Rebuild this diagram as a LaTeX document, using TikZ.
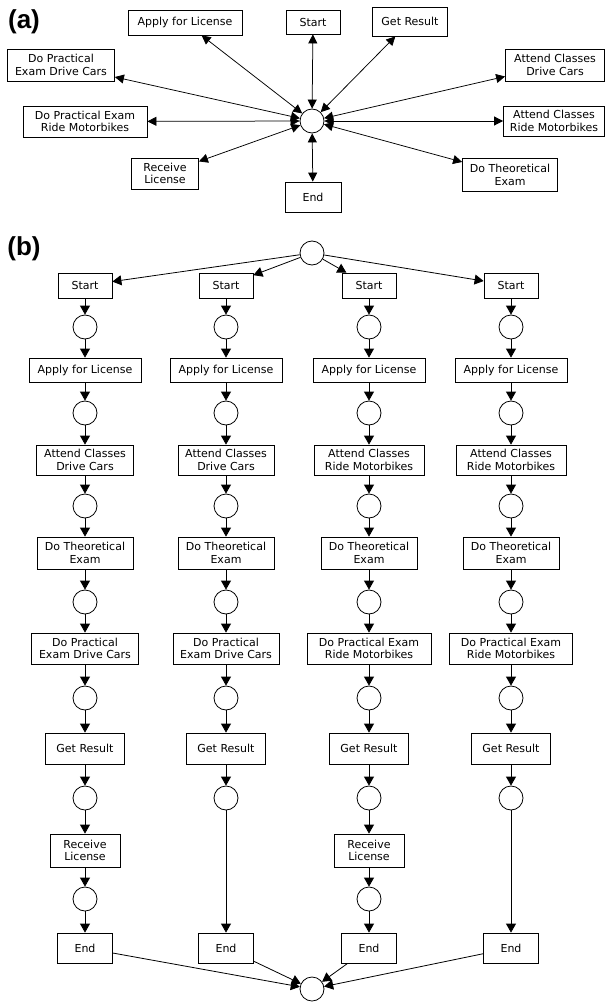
\documentclass[tikz,border=0pt]{standalone}
\usepackage{fontspec}
\setmainfont{DejaVu Sans}
\newfontfamily\lblfont{Liberation Sans}
\usetikzlibrary{arrows.meta}
\begin{document}
\begin{tikzpicture}[x=1pt,y=-1pt,
  box/.style={draw, line width=0.8pt, inner sep=0pt, align=center,
    font=\fontsize{11}{12.6}\selectfont},
  place/.style={draw, circle, line width=0.8pt, minimum size=24pt, inner sep=0pt},
  arr/.style={line width=0.8pt, -{Triangle[length=9pt,width=10pt]}},
  dbl/.style={line width=0.75pt, {Triangle[length=9pt,width=9pt]}-{Triangle[length=9pt,width=9pt]}},
  panel/.style={font=\lblfont\bfseries\fontsize{26}{28}\selectfont, inner sep=0pt}]
\useasboundingbox (0,0) rectangle (605,1003);

% ---------- (a) ----------
\node[panel] (la) at (24,22) {(a)};
\node[place] (ac) at (312,121) {};
\node[box, minimum width=54pt, minimum height=24pt] (aStart) at (313,22) {Start};
\node[box, minimum width=114pt, minimum height=25pt] (aApply) at (185,22.5) {Apply for License};
\node[box, minimum width=75pt, minimum height=29pt] (aGet) at (410,21.5) {Get Result};
\node[box, minimum width=107pt, minimum height=32pt] (aPracC) at (61,65) {Do Practical\\Exam Drive Cars};
\node[box, minimum width=99pt, minimum height=32pt] (aAttC) at (555,65) {Attend Classes\\Drive Cars};
\node[box, minimum width=124pt, minimum height=31pt] (aPracM) at (85,121.5) {Do Practical Exam\\Ride Motorbikes};
\node[box, minimum width=101pt, minimum height=30pt] (aAttM) at (554,121) {Attend Classes\\Ride Motorbikes};
\node[box, minimum width=67pt, minimum height=31pt] (aRecv) at (165,173.5) {Receive\\License};
\node[box, minimum width=56pt, minimum height=30pt] (aEnd) at (313,197) {End};
\node[box, minimum width=95pt, minimum height=33pt] (aTheo) at (510,175) {Do Theoretical\\Exam};
\foreach \n in {aStart,aApply,aGet,aPracC,aAttC,aPracM,aAttM,aRecv,aEnd,aTheo}
  \draw[dbl] (ac) -- (\n);

% ---------- (b) ----------
\node[panel] (lb) at (24,249) {(b)};
\node[place] (top) at (312,253) {};
\node[place] (bot) at (312,989) {};

\foreach \i/\x in {1/85,2/226,3/369,4/511} {
  \node[box, minimum width=54pt, minimum height=25pt] (s-\i) at (\x,285.5) {Start};
  \node[place] (p1-\i) at (\x,327) {};
  \node[box, minimum width=112pt, minimum height=24pt] (ap-\i) at (\x,370) {Apply for License};
  \node[place] (p2-\i) at (\x,413) {};
  \node[place] (p3-\i) at (\x,506) {};
  \node[box, minimum width=96pt, minimum height=32pt] (th-\i) at (\x,553) {Do Theoretical\\Exam};
  \node[place] (p4-\i) at (\x,602) {};
  \node[place] (p5-\i) at (\x,698) {};
  \node[box, minimum width=79pt, minimum height=31pt] (gr-\i) at (\x,748.5) {Get Result};
  \node[place] (p6-\i) at (\x,798) {};
  \node[box, minimum width=55pt, minimum height=30pt] (en-\i) at (\x,948) {End};
}
\node[box, minimum width=97pt, minimum height=30pt] (at-1) at (85,460) {Attend Classes\\Drive Cars};
\node[box, minimum width=96pt, minimum height=30pt] (at-2) at (226,460) {Attend Classes\\Drive Cars};
\node[box, minimum width=110pt, minimum height=30pt] (at-3) at (369,460) {Attend Classes\\Ride Motorbikes};
\node[box, minimum width=110pt, minimum height=30pt] (at-4) at (511,460) {Attend Classes\\Ride Motorbikes};
\node[box, minimum width=107pt, minimum height=31pt] (pr-1) at (85,648.5) {Do Practical\\Exam Drive Cars};
\node[box, minimum width=106pt, minimum height=31pt] (pr-2) at (226,648.5) {Do Practical\\Exam Drive Cars};
\node[box, minimum width=124pt, minimum height=31pt] (pr-3) at (369,648.5) {Do Practical Exam\\Ride Motorbikes};
\node[box, minimum width=123pt, minimum height=31pt] (pr-4) at (511,648.5) {Do Practical Exam\\Ride Motorbikes};
\node[box, minimum width=70pt, minimum height=33pt] (rc-1) at (85,850.5) {Receive\\License};
\node[box, minimum width=70pt, minimum height=33pt] (rc-3) at (369,850.5) {Receive\\License};
\node[place] (p7-1) at (85,899) {};
\node[place] (p7-3) at (369,899) {};

\foreach \i in {1,2,3,4} {
  \draw[arr] (top) -- (s-\i);
  \draw[arr] (s-\i) -- (p1-\i);
  \draw[arr] (p1-\i) -- (ap-\i);
  \draw[arr] (ap-\i) -- (p2-\i);
  \draw[arr] (p2-\i) -- (at-\i);
  \draw[arr] (at-\i) -- (p3-\i);
  \draw[arr] (p3-\i) -- (th-\i);
  \draw[arr] (th-\i) -- (p4-\i);
  \draw[arr] (p4-\i) -- (pr-\i);
  \draw[arr] (pr-\i) -- (p5-\i);
  \draw[arr] (p5-\i) -- (gr-\i);
  \draw[arr] (gr-\i) -- (p6-\i);
  \draw[arr] (en-\i) -- (bot);
}
\foreach \i in {1,3} {
  \draw[arr] (p6-\i) -- (rc-\i);
  \draw[arr] (rc-\i) -- (p7-\i);
  \draw[arr] (p7-\i) -- (en-\i);
}
\foreach \i in {2,4}
  \draw[arr] (p6-\i) -- (en-\i);
\end{tikzpicture}
\end{document}
